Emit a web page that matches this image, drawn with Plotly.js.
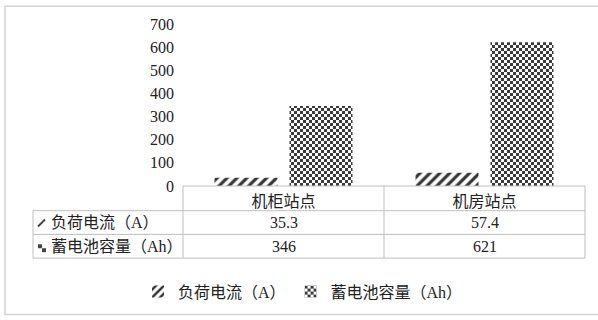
<!DOCTYPE html>
<html>
<head>
<meta charset="utf-8">
<script src="https://cdn.plot.ly/plotly-3.0.1.min.js"></script>
<style>
html,body{margin:0;padding:0;background:#fff;}
#chart{width:598px;height:320px;}
</style>
</head>
<body>
<div id="chart"></div>
<script>
const categories = ['机柜站点', '机房站点'];
const seriesNames = ['负荷电流（A）', '蓄电池容量（Ah）'];
const loadCurrent = [35.3, 57.4];
const batteryCapacity = [346, 621];
const yTicks = [0, 100, 200, 300, 400, 500, 600, 700];

const W = 598, H = 320;
const M = {l: 183, r: 13, t: 24, b: 132};
const PW = W - M.l - M.r, PH = H - M.t - M.b;
const px = x => (x - M.l) / PW;
const py = y => (H - M.b - y) / PH;

const FONT = '"Liberation Serif", "Times New Roman", "Noto Sans CJK SC", serif';
const TXT = '#222222';
const LINE = '#bfbfbf';

const traces = [
  {
    type: 'bar', name: seriesNames[0], x: categories, y: loadCurrent,
    marker: {color: '#ffffff', line: {width: 0},
      pattern: {shape: '/', fgcolor: '#333333', bgcolor: '#ffffff', size: 7, solidity: 0.45}},
    hoverinfo: 'skip'
  },
  {
    type: 'bar', name: seriesNames[1], x: categories, y: batteryCapacity,
    marker: {color: '#ffffff', line: {width: 0},
      pattern: {shape: 'x', fgcolor: '#3a3a3a', bgcolor: '#ffffff', size: 6, solidity: 0.5}},
    hoverinfo: 'skip'
  }
];

const shapes = [];
function hline(y, x0, x1) {
  shapes.push({type: 'line', xref: 'paper', yref: 'paper', x0: px(x0), x1: px(x1), y0: py(y), y1: py(y),
    line: {color: LINE, width: 1}});
}
function vline(x, y0, y1) {
  shapes.push({type: 'line', xref: 'paper', yref: 'paper', x0: px(x), x1: px(x), y0: py(y0), y1: py(y1),
    line: {color: LINE, width: 1}});
}
// outer frame
shapes.push({type: 'rect', xref: 'paper', yref: 'paper', x0: px(5), x1: px(602), y0: py(318), y1: py(6),
  line: {color: '#d4d4d4', width: 1.5}, fillcolor: 'rgba(0,0,0,0)'});
// data table grid
hline(188, 183, 585);
hline(213, 33, 585);
hline(237, 33, 585);
hline(261, 33, 585);
vline(33, 213, 261);
vline(183, 188, 261);
vline(384, 188, 261);
vline(585, 188, 261);
// small legend keys in table
shapes.push({type: 'line', xref: 'paper', yref: 'paper', x0: px(38), x1: px(45), y0: py(229), y1: py(222),
  line: {color: '#444', width: 2}});
shapes.push({type: 'rect', xref: 'paper', yref: 'paper', x0: px(38), x1: px(42), y0: py(251), y1: py(247),
  line: {width: 0}, fillcolor: '#444'});
shapes.push({type: 'rect', xref: 'paper', yref: 'paper', x0: px(42), x1: px(46), y0: py(255), y1: py(251),
  line: {width: 0}, fillcolor: '#444'});

const annotations = [];
const rowsY = [225, 249];
const series = [loadCurrent, batteryCapacity];
series.forEach((vals, r) => {
  annotations.push({xref: 'paper', yref: 'paper', x: px(49), y: py(rowsY[r]), xanchor: 'left', yanchor: 'middle',
    text: seriesNames[r], showarrow: false, font: {family: FONT, size: 16, color: TXT}});
  vals.forEach((v, i) => {
    annotations.push({xref: 'x', yref: 'paper', x: categories[i], y: py(rowsY[r]), xanchor: 'center', yanchor: 'middle',
      text: String(v), showarrow: false, font: {family: FONT, size: 16, color: TXT}});
  });
});

const layout = {
  width: W, height: H,
  margin: M,
  paper_bgcolor: '#ffffff', plot_bgcolor: '#ffffff',
  font: {family: FONT, size: 16, color: TXT},
  barmode: 'group', bargap: 0.254, bargroupgap: 0.16,
  showlegend: true,
  legend: {orientation: 'h', x: px(303), xref: 'paper', xanchor: 'center', y: py(295), yanchor: 'middle',
    font: {family: FONT, size: 16, color: TXT}, itemwidth: 30, bgcolor: 'rgba(0,0,0,0)'},
  xaxis: {showgrid: false, zeroline: false, showline: false, ticks: '', ticklabelstandoff: 4,
    tickfont: {family: FONT, size: 16, color: TXT}, fixedrange: true},
  yaxis: {range: [0, 700], tickvals: yTicks, showgrid: false, zeroline: false, showline: false, ticks: '',
    ticklabelstandoff: 8, tickfont: {family: FONT, size: 16, color: TXT}, fixedrange: true},
  shapes: shapes,
  annotations: annotations
};

function checkerize(gd) {
  const SVGNS = 'http://www.w3.org/2000/svg';
  const ids = new Set();
  const barTraces = gd.querySelectorAll('.barlayer .trace');
  const legendTraces = gd.querySelectorAll('.legend .traces');
  const els = [];
  if (barTraces[1]) barTraces[1].querySelectorAll('path').forEach(p => els.push(p));
  if (legendTraces[1]) legendTraces[1].querySelectorAll('path').forEach(p => els.push(p));
  els.forEach(el => {
    const f = (el.getAttribute('style') || '') + ' ' + (el.getAttribute('fill') || '');
    const m = f.match(/url\(["']?#([^"')]+)["']?\)/);
    if (m) ids.add(m[1]);
  });
  ids.forEach(id => {
    const pat = document.getElementById(id);
    if (!pat) return;
    while (pat.firstChild) pat.removeChild(pat.firstChild);
    pat.setAttribute('width', 6);
    pat.setAttribute('height', 6);
    pat.setAttribute('patternUnits', 'userSpaceOnUse');
    pat.removeAttribute('patternTransform');
    const add = (x, y, w, h, c) => {
      const r = document.createElementNS(SVGNS, 'rect');
      r.setAttribute('x', x); r.setAttribute('y', y);
      r.setAttribute('width', w); r.setAttribute('height', h);
      r.setAttribute('fill', c);
      pat.appendChild(r);
    };
    add(0, 0, 6, 6, '#ffffff');
    add(0, 0, 3, 3, '#3a3a3a');
    add(3, 3, 3, 3, '#3a3a3a');
  });
}

Plotly.newPlot('chart', traces, layout, {staticPlot: true, displayModeBar: false})
  .then(gd => checkerize(gd));
</script>
</body>
</html>
